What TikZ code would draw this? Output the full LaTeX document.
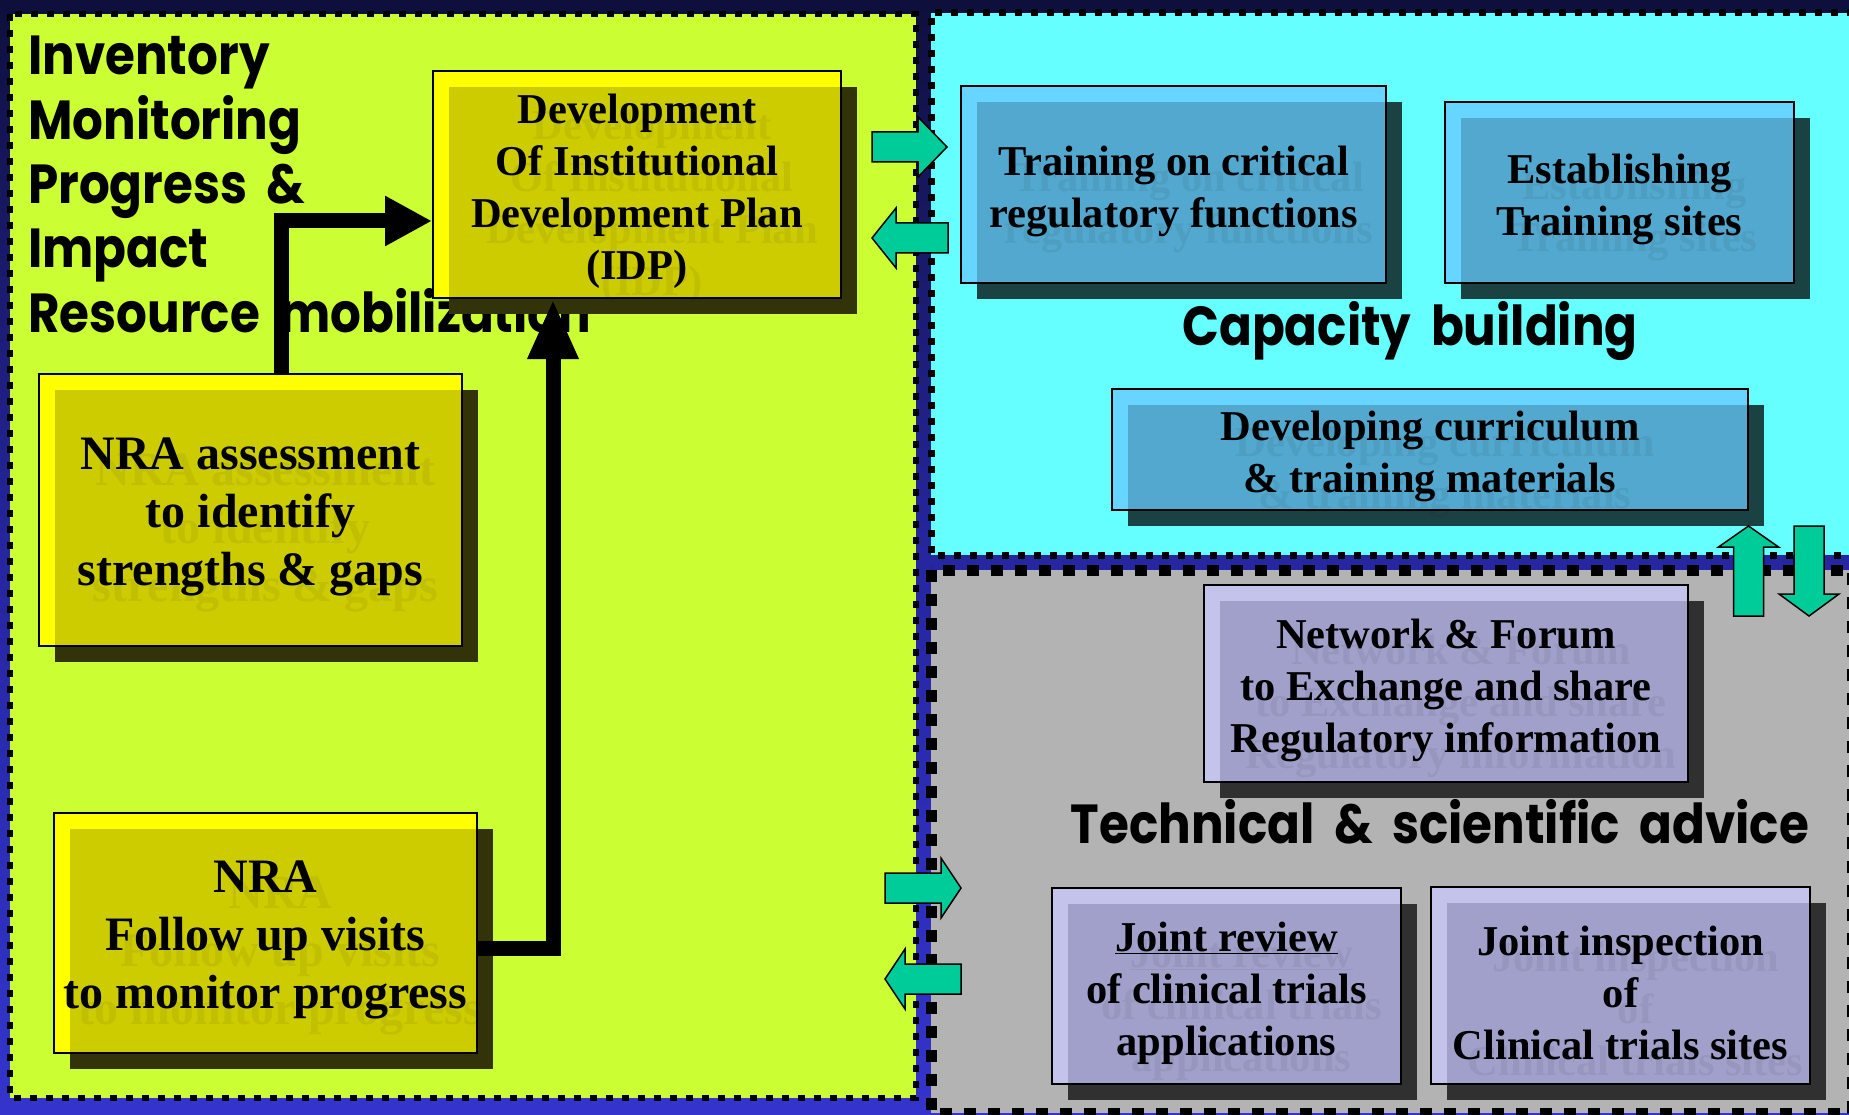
\documentclass[tikz,border=0pt]{standalone}
\usepackage{fontspec}
\setmainfont{Liberation Serif}
\newfontfamily\handfont{Poppins}[FakeStretch=0.88, WordSpace=1.9]
\usetikzlibrary{arrows.meta,calc}

% panel and box palettes
\definecolor{panelY}{HTML}{CCFF33}
\definecolor{panelC}{HTML}{66FFFF}
\definecolor{panelG}{HTML}{B3B3B3}
\definecolor{Ylight}{HTML}{FFFF00}
\definecolor{Ymid}{HTML}{CCCC00}
\definecolor{Ydark}{HTML}{33330A}
\definecolor{Clight}{HTML}{66D5FF}
\definecolor{Cmid}{HTML}{52A8CE}
\definecolor{Cdark}{HTML}{1B4242}
\definecolor{Glight}{HTML}{C3C3EB}
\definecolor{Gmid}{HTML}{A0A0CA}
\definecolor{Gdark}{HTML}{303030}
\definecolor{arrowgreen}{HTML}{00CC99}
\definecolor{navytop}{HTML}{0F0F3C}
\definecolor{navymid}{HTML}{2626A0}
\definecolor{navybot}{HTML}{3434CC}

\tikzset{
  boxtext/.style={font=\bfseries\fontsize{42.5}{52}\selectfont, align=center, text=black},
  bigtext/.style={font=\bfseries\fontsize{48}{58}\selectfont, align=center, text=black},
  echo/.style={text opacity=0.06},
  title/.style={font=\handfont\bfseries\fontsize{55}{64}\selectfont, text=black, inner sep=0pt},
  flow/.style={draw=black, line width=15pt, line join=miter},
  garrow/.style={draw=black, line width=1.5pt, fill=arrowgreen, line join=miter},
  ydots/.style={draw=black, line width=6pt, dash pattern=on 7pt off 9pt},
  gdots/.style={draw=black, line width=11pt, dash pattern=on 12pt off 12pt},
}

% box with offset shadow: name, x1, y1, x2, y2, palette, text style, text
\newcommand{\layerbox}[8]{%
  \fill[#6dark] (#2+16,#3+16) rectangle (#4+16,#5+16);
  \fill[#6light] (#2,#3) rectangle (#4,#5);
  \fill[#6mid] (#2+16,#3+16) rectangle (#4,#5);
  \node[#7, echo] (#1-echo) at ({(#2+#4)/2+15},{(#3+#5)/2+23}) {#8};
  \node[draw=black, line width=2pt, inner sep=0pt,
        minimum width={#4-#2}, minimum height={#5-#3}]
        (#1) at ({(#2+#4)/2},{(#3+#5)/2}) {};
  \node[#7] (#1-label) at ({(#2+#4)/2},{(#3+#5)/2+7}) {#8};
}

% block arrow: tail x, tail y, angle, length, head length
\newcommand{\greenarrow}[5]{%
  \begin{scope}[shift={(#1,#2)}, rotate=#3]
    \draw[garrow] (0,-15) -- (#4-#5,-15) -- (#4-#5,-30) -- (#4,0)
      -- (#4-#5,30) -- (#4-#5,15) -- (0,15) -- cycle;
  \end{scope}}

\begin{document}
\begin{tikzpicture}[x=1pt,y=-1pt]
\useasboundingbox (0,0) rectangle (1849,1115);
\clip (0,0) rectangle (1849,1115);

% backdrop
\shade[top color=navytop, bottom color=navybot, middle color=navymid]
  (0,0) rectangle (1849,1115);

% three panels
\fill[panelY] (10,14) rectangle (916,1098);
\draw[ydots] (10,14) rectangle (916,1098);
\fill[panelC] (931,13) rectangle (1870,555);
\draw[ydots, line width=7pt] (1870,13) -- (931,13) -- (931,555) -- (1870,555);
\fill[panelG] (931,570) rectangle (1852,1113);
\draw[gdots] (931,570) rectangle (1852,1113);

% headings
\node[title, anchor=base west] (inv)  at (28,75)  {Inventory};
\node[title, anchor=base west] (mon)  at (28,140) {Monitoring};
\node[title, anchor=base west] (prog) at (28,204) {Progress \&};
\node[title, anchor=base west] (imp)  at (28,268) {Impact};
\node[title, anchor=base west] (res)  at (28,332) {Resource mobilization};
\node[title, anchor=base] (cap)  at (1410,345) {Capacity building};
\node[title, anchor=base] (tech) at (1440,843) {Technical \& scientific advice};

% boxes
\layerbox{idp}{433}{71}{841}{298}{Y}{boxtext}{Development\\Of Institutional\\Development Plan\\(IDP)}
\layerbox{nraA}{39}{374}{462}{646}{Y}{bigtext}{NRA assessment\\to identify\\strengths \& gaps}
\layerbox{nraF}{54}{813}{477}{1053}{Y}{bigtext}{NRA\\Follow up visits\\to monitor progress}
\layerbox{train}{961}{86}{1386}{283}{C}{boxtext}{Training on critical\\regulatory functions}
\layerbox{estab}{1445}{102}{1794}{283}{C}{boxtext}{Establishing\\Training sites}
\layerbox{curric}{1112}{389}{1748}{510}{C}{boxtext}{Developing curriculum\\\& training materials}
\layerbox{network}{1204}{585}{1688}{782}{G}{boxtext}{Network \& Forum\\to Exchange and share\\Regulatory information}
\layerbox{review}{1052}{888}{1401}{1084}{G}{boxtext}{\underline{Joint review}\\of clinical trials\\applications}
\layerbox{inspect}{1431}{887}{1810}{1084}{G}{boxtext}{Joint inspection\\of\\Clinical trials sites}

% flow into the plan
\draw[flow, -{Triangle[length=47pt,width=47pt]}]
  ([xshift=31pt]nraA.north) |- ([yshift=-36.5pt]idp.west);
\draw[flow, -{Triangle[length=60pt,width=47pt]}]
  ([yshift=-15pt]nraF.east) -| ([xshift=-84pt]idp.south);

% exchange arrows between panels
\greenarrow{872}{147}{0}{75}{29}
\greenarrow{948}{238}{180}{76}{24}
\greenarrow{885}{888}{0}{76}{20}
\greenarrow{961}{979}{180}{76}{20}
\greenarrow{1748.5}{616}{90}{90}{21}
\greenarrow{1809}{526}{-90}{90}{22}
\end{tikzpicture}
\end{document}
